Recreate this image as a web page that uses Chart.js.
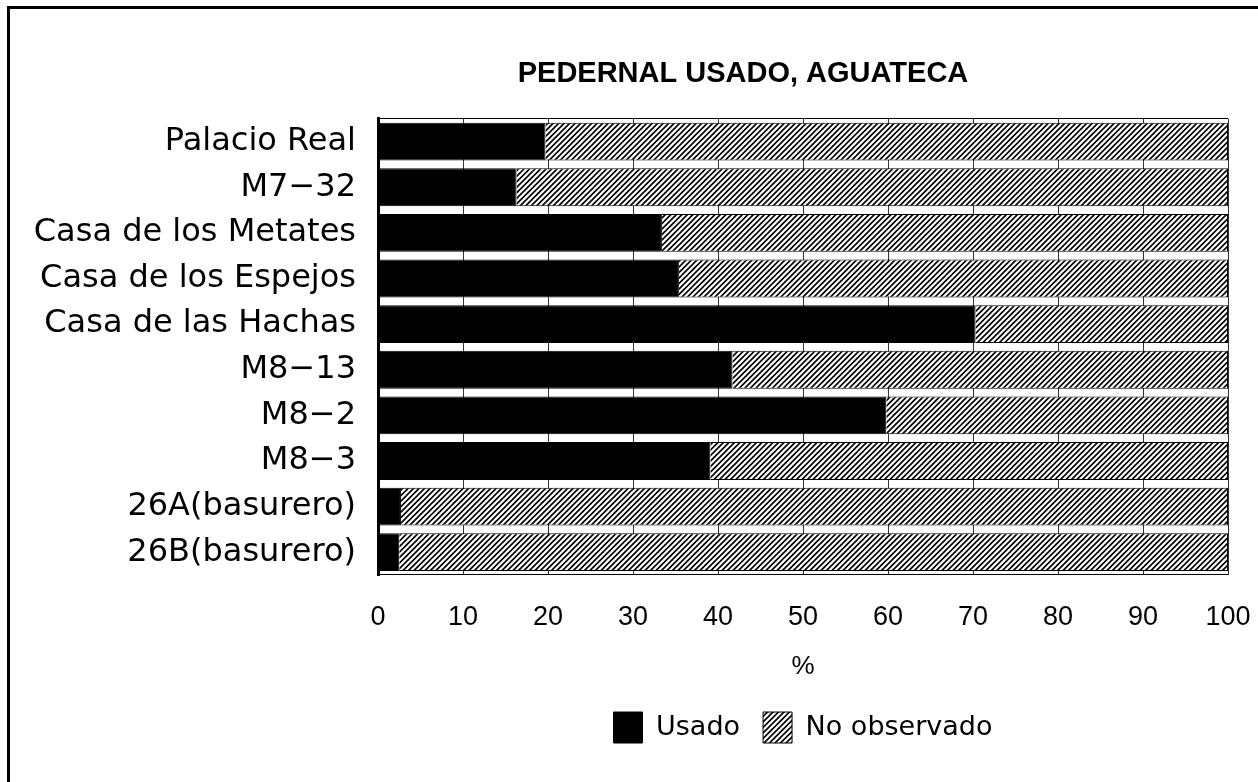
<!DOCTYPE html>
<html>
<head>
<meta charset="utf-8">
<title>Pedernal usado, Aguateca</title>
<script src="https://cdn.jsdelivr.net/npm/chart.js@4.4.1/dist/chart.umd.min.js"></script>
<style>
  html, body { margin: 0; padding: 0; background: #fff; }
  #frame {
    position: absolute; left: 7px; top: 6px; width: 1251px; height: 776px;
    border-top: 3px solid #000; border-left: 3px solid #000; box-sizing: border-box;
  }
  #wrap { position: absolute; left: 0; top: 0; width: 1258px; height: 782px; }
</style>
</head>
<body>
<div id="frame"></div>
<div id="wrap"><canvas id="chart"></canvas></div>
<script>
const sites = [
  "Palacio Real",
  "M7\u221232",
  "Casa de los Metates",
  "Casa de los Espejos",
  "Casa de las Hachas",
  "M8\u221213",
  "M8\u22122",
  "M8\u22123",
  "26A(basurero)",
  "26B(basurero)",
];
const usado = [19.7, 16.3, 33.4, 35.4, 70.3, 41.7, 59.8, 39.1, 2.7, 2.5];
const noObservado = [80.3, 83.7, 66.6, 64.6, 29.7, 58.3, 40.2, 60.9, 97.3, 97.5];
const percentTicks = [0, 10, 20, 30, 40, 50, 60, 70, 80, 90, 100];

const TITLE_CENTER_X = 743;
const AXIS_LEFT = 378;

function makeHatch() {
  const size = 11;
  const tile = document.createElement("canvas");
  tile.width = size;
  tile.height = size;
  const c = tile.getContext("2d");
  c.fillStyle = "#fff";
  c.fillRect(0, 0, size, size);
  c.strokeStyle = "#000";
  c.lineWidth = 1.6;
  c.beginPath();
  // "/" lines, two per tile
  for (let k = -size; k <= 2 * size; k += size / 2) {
    c.moveTo(k - size - 2, size + 2);
    c.lineTo(k + 2, -2);
  }
  c.stroke();
  return c.createPattern(tile, "repeat");
}

// keep the title where the original puts it (not centred on the canvas)
const titleShift = {
  id: "titleShift",
  afterLayout(chart) {
    const block = chart.titleBlock;
    if (!block) {
      return;
    }
    const half = (block.right - block.left) / 2;
    block.left = TITLE_CENTER_X - half;
    block.right = TITLE_CENTER_X + half;
  },
};

const hatch = makeHatch();

new Chart(document.getElementById("chart"), {
  type: "bar",
  data: {
    labels: sites,
    datasets: [
      {
        label: "Usado",
        data: usado,
        backgroundColor: "#000",
        borderColor: "#000",
        borderWidth: 1,
        barPercentage: 0.83,
        categoryPercentage: 1,
      },
      {
        label: "No observado",
        data: noObservado,
        backgroundColor: hatch,
        borderColor: "#000",
        borderWidth: 1,
        barPercentage: 0.83,
        categoryPercentage: 1,
      },
    ],
  },
  options: {
    indexAxis: "y",
    responsive: true,
    maintainAspectRatio: false,
    animation: false,
    layout: {
      padding: { top: 40, right: 30, bottom: 29, left: 0 },
    },
    plugins: {
      title: {
        display: true,
        text: "PEDERNAL USADO, AGUATECA",
        color: "#000",
        font: { family: "Liberation Sans", size: 29, weight: "bold" },
        padding: { top: 17, bottom: 27 },
      },
      legend: {
        position: "bottom",
        fullSize: false,
        labels: {
          color: "#000",
          font: { family: "DejaVu Sans", size: 27 },
          boxWidth: 29,
          boxHeight: 31,
          padding: 23,
        },
      },
      tooltip: { enabled: false },
    },
    scales: {
      x: {
        stacked: true,
        min: 0,
        max: 100,
        afterBuildTicks(scale) {
          scale.ticks = percentTicks.map((value) => ({ value }));
        },
        grid: {
          color: "#333",
          lineWidth: 1,
          drawTicks: true,
          tickLength: 29,
          tickColor: "transparent",
        },
        border: { display: false },
        ticks: {
          color: "#000",
          padding: 0,
          maxRotation: 0,
          font: { family: "Liberation Sans", size: 27, lineHeight: 1 },
        },
        title: {
          display: true,
          text: "%",
          color: "#000",
          font: { family: "Liberation Sans", size: 26, lineHeight: 1 },
          padding: { top: 23, bottom: 9 },
        },
      },
      y: {
        stacked: true,
        grid: {
          offset: true,
          drawTicks: false,
          lineWidth: 1,
          color: (ctx) =>
            ctx.type === "scale" || ctx.index === 0 ? "#000" : "transparent",
        },
        border: { display: true, color: "#000", width: 3 },
        ticks: {
          color: "#000",
          padding: 22,
          autoSkip: false,
          font: { family: "DejaVu Sans", size: 32 },
        },
        afterFit(scale) {
          scale.width = AXIS_LEFT;
        },
      },
    },
  },
  plugins: [titleShift],
});
</script>
</body>
</html>
